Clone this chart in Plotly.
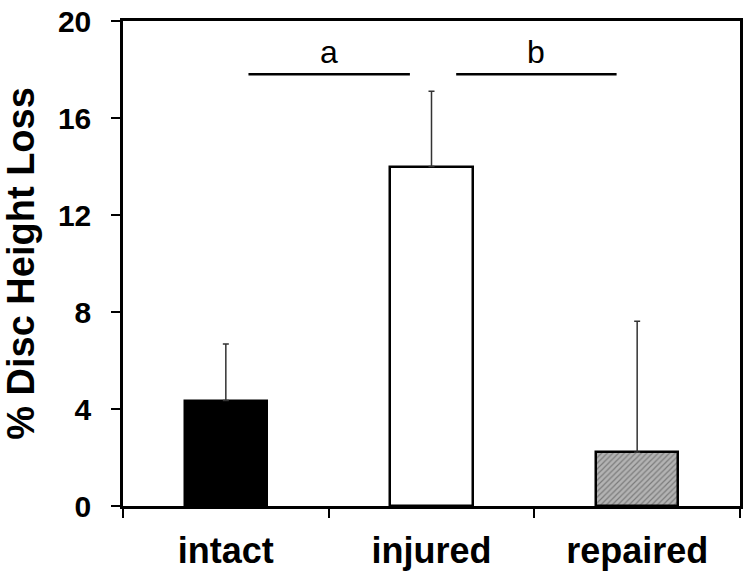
import plotly.graph_objects as go

categories = ["intact", "injured", "repaired"]
positions = [0.5, 1.5, 2.5]
values = [4.35, 14.0, 2.22]
err_plus = [2.33, 3.1, 5.4]
colors = ["#000000", "#ffffff", "#b3b3b3"]
patterns = ["", "", "/"]

y_ticks = [0, 4, 8, 12, 16, 20]
boundary_ticks = [0, 1, 2, 3]

sig_labels = ["a", "b"]
sig_x0 = [0.61, 1.62]
sig_x1 = [1.395, 2.40]
sig_y = [17.8, 17.8]
sig_label_y = [18.6, 18.6]

fig = go.Figure()
fig.add_trace(go.Bar(
    x=positions, y=values, width=0.4,
    marker=dict(color=colors, line=dict(color="#000000", width=2.5),
                pattern=dict(shape=patterns, fgcolor="#707070", size=4, solidity=0.3)),
    error_y=dict(type="data", array=err_plus, arrayminus=[0, 0, 0], symmetric=False,
                 color="#333333", thickness=1.5, width=3),
    showlegend=False,
))

for lab, x0, x1, y, ly in zip(sig_labels, sig_x0, sig_x1, sig_y, sig_label_y):
    fig.add_shape(type="line", x0=x0, x1=x1, y0=y, y1=y, xref="x", yref="y",
                  line=dict(color="#000000", width=2.5))
    fig.add_annotation(x=(x0 + x1) / 2, y=ly, text=lab, showarrow=False, xref="x", yref="y",
                       yanchor="middle", yshift=3,
                       font=dict(family="Liberation Sans, Arial", size=32, color="#000000"))

fig.update_layout(
    width=750, height=580,
    margin=dict(l=123, r=10, t=21, b=74),
    plot_bgcolor="#ffffff", paper_bgcolor="#ffffff",
    font=dict(family="Liberation Sans, Arial", color="#000000"),
    bargap=0,
)
fig.update_xaxes(
    range=[0, 3], tickvals=positions, ticktext=categories, ticks="",
    tickfont=dict(size=36, family="Liberation Sans, Arial", weight="bold"),
    ticklabelstandoff=11, automargin=False, ticklabeloverflow="allow",
    minor=dict(tickvals=boundary_ticks, ticks="outside", ticklen=9, tickwidth=2, tickcolor="#000000"),
    showline=True, linecolor="#000000", linewidth=2.5, mirror=True,
    showgrid=False, zeroline=False,
)
fig.update_yaxes(
    range=[0, 20], tickvals=y_ticks, ticks="outside", ticklen=9, tickwidth=2, tickcolor="#000000",
    tickfont=dict(size=30, family="Liberation Sans, Arial", weight="bold"),
    ticklabelstandoff=14, automargin=False, ticklabeloverflow="allow",
    showline=True, linecolor="#000000", linewidth=2.5, mirror=True,
    showgrid=False, zeroline=False,
    title=dict(text="% Disc Height Loss", standoff=29,
               font=dict(size=38, family="Liberation Sans, Arial", weight="bold")),
)

fig.write_html("out.html", config={"displayModeBar": False},
               post_script="document.body.style.margin='0';")
